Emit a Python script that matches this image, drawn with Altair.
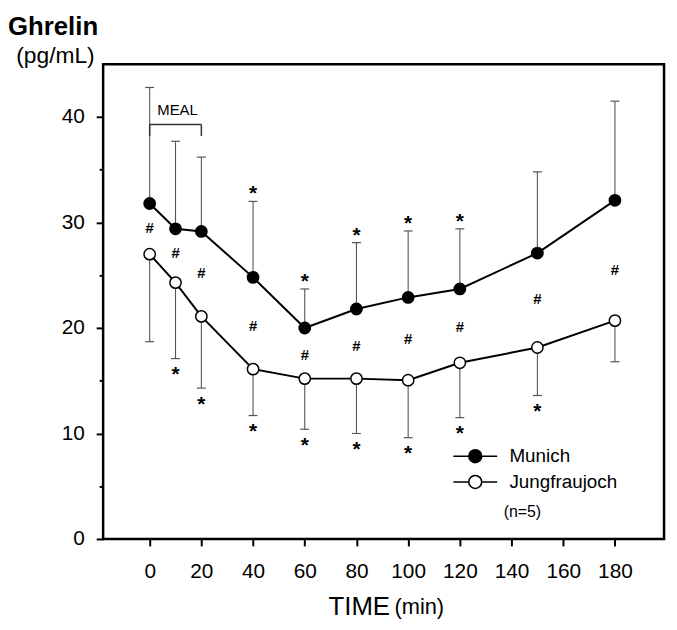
import altair as alt
import pandas as pd

# ---- data ----
times = [0, 10, 20, 40, 60, 80, 100, 120, 150, 180]
munich_mean = [31.8, 29.4, 29.15, 24.8, 20.0, 21.8, 22.9, 23.7, 27.1, 32.1]
munich_upper = [42.8, 37.7, 36.2, 32.0, 23.7, 28.1, 29.2, 29.4, 34.8, 41.5]
jung_mean = [27.0, 24.3, 21.1, 16.1, 15.2, 15.2, 15.05, 16.7, 18.15, 20.7]
jung_lower = [18.7, 17.1, 14.3, 11.7, 10.4, 10.0, 9.6, 11.5, 13.6, 16.8]
hash_y = [29.5, 27.1, 25.2, 20.2, 17.5, 18.3, 19.0, 20.1, 22.8, 25.5]
munich_star_times = [40, 60, 80, 100, 120]
jung_star_times = [10, 20, 40, 60, 80, 100, 120, 150]
series_names = ["Munich", "Jungfraujoch"]
meal_times = [0, 20]
meal_bracket_y = 39.3
meal_tip_y = 38.2
meal_label_y = 40.2
x_ticks = [0, 20, 40, 60, 80, 100, 120, 140, 160, 180]
y_ticks = [0, 5, 10, 15, 20, 25, 30, 35, 40]

FONT = "Liberation Sans"

# ---- tables ----
rows = []
for t, m, u in zip(times, munich_mean, munich_upper):
    rows.append({"series": "Munich", "time": t, "mean": m, "err": u})
for t, m, l in zip(times, jung_mean, jung_lower):
    rows.append({"series": "Jungfraujoch", "time": t, "mean": m, "err": l})
df = pd.DataFrame(rows)

hash_df = pd.DataFrame({"time": times, "y": hash_y, "sym": ["#"] * len(times)})
mstar_df = pd.DataFrame({
    "time": munich_star_times,
    "y": [munich_upper[times.index(t)] for t in munich_star_times],
    "sym": ["*"] * len(munich_star_times),
})
jstar_df = pd.DataFrame({
    "time": jung_star_times,
    "y": [jung_lower[times.index(t)] for t in jung_star_times],
    "sym": ["*"] * len(jung_star_times),
})
meal_h = pd.DataFrame({"x": [meal_times[0]], "x2": [meal_times[1]], "y": [meal_bracket_y]})
meal_v = pd.DataFrame({"x": meal_times, "y": [meal_bracket_y] * 2, "y2": [meal_tip_y] * 2})
meal_t = pd.DataFrame({"x": [sum(meal_times) / 2], "y": [meal_label_y], "label": ["MEAL"]})
min_df = pd.DataFrame({"label": ["(min)"]})

# ---- scales / axes ----
x_scale = alt.Scale(domain=[-18, 199], nice=False, zero=False)
y_scale = alt.Scale(domain=[0, 45], nice=False, zero=False)

x_axis = alt.Axis(
    values=x_ticks, title="TIME", titleFontSize=26, titleFontWeight="normal",
    titleX=289, titleY=76, titleAlign="right", titleBaseline="alphabetic",
    titleFont=FONT, titleColor="black",
    labelFont=FONT, labelFontSize=21, labelColor="black", labelPadding=15,
    tickSize=7, tickWidth=2, tickColor="black", domain=False, grid=False,
    labelFlush=False,
)
y_axis = alt.Axis(
    values=y_ticks, labelExpr="datum.value % 10 === 0 ? datum.label : ''",
    tickSize={"condition": {"test": "datum.value % 10 === 0", "value": 7}, "value": 4},
    tickWidth=2, tickColor="black", domain=False, grid=False,
    labelFont=FONT, labelFontSize=21, labelColor="black", labelPadding=12,
    title="(pg/mL)", titleAngle=0, titleX=-9, titleY=-2, titleAlign="right",
    titleBaseline="alphabetic", titleFontSize=23, titleFontWeight="normal",
    titleFont=FONT, titleColor="black", labelFlush=False,
)


def X(field):
    return alt.X(field, type="quantitative", scale=x_scale, axis=x_axis)


def Y(field):
    return alt.Y(field, type="quantitative", scale=y_scale, axis=y_axis)


legend_symbol = "M-3.4,0L-1,0M1,0L3.4,0M1,0A1,1,0,1,1,-1,0A1,1,0,1,1,1,0Z"

base = alt.Chart(df)

err_rules = base.mark_rule(color="#555555", strokeWidth=1.1).encode(
    x=X("time"), y=Y("mean"), y2="err"
)
err_caps = base.mark_tick(color="#555555", orient="horizontal", size=9, thickness=1.2, opacity=1).encode(
    x=X("time"), y=Y("err")
)
lines = base.mark_line(color="black", strokeWidth=2).encode(
    x=X("time"), y=Y("mean"), detail="series:N"
)
points = base.mark_point(shape="circle", filled=True, stroke="black", strokeWidth=1.5,
                         size=130, opacity=1).encode(
    x=X("time"), y=Y("mean"),
    fill=alt.Fill(
        "series:N",
        scale=alt.Scale(domain=series_names, range=["black", "white"]),
        legend=alt.Legend(
            title="(n=5)", titleOrient="bottom", titleFontSize=16, titleFontWeight="normal",
            titleFont=FONT, titleColor="black", titleAnchor="middle", titleAlign="right",
            titlePadding=12,
            orient="none", legendX=366, legendY=386,
            symbolType=legend_symbol, symbolSize=169, symbolStrokeColor="black",
            symbolStrokeWidth=1.6, symbolOpacity=1,
            labelFont=FONT, labelFontSize=19, labelColor="black", labelOffset=25,
            rowPadding=5,
        ),
    ),
)

hashes = alt.Chart(hash_df).mark_text(
    font=FONT, fontSize=15, fontWeight="bold", baseline="alphabetic", dy=5.4, color="black"
).encode(x=X("time"), y=Y("y"), text="sym:N")
mstars = alt.Chart(mstar_df).mark_text(
    font=FONT, fontSize=21, fontWeight="bold", baseline="alphabetic", dy=-1, color="black"
).encode(x=X("time"), y=Y("y"), text="sym:N")
jstars = alt.Chart(jstar_df).mark_text(
    font=FONT, fontSize=21, fontWeight="bold", baseline="alphabetic", dy=23, color="black"
).encode(x=X("time"), y=Y("y"), text="sym:N")

meal_line = alt.Chart(meal_h).mark_rule(color="#333333", strokeWidth=1.5).encode(
    x=X("x"), x2="x2", y=Y("y")
)
meal_ticks = alt.Chart(meal_v).mark_rule(color="#333333", strokeWidth=1.5).encode(
    x=X("x"), y=Y("y"), y2="y2"
)
meal_text = alt.Chart(meal_t).mark_text(
    font=FONT, fontSize=15, baseline="alphabetic", dx=2, color="black"
).encode(x=X("x"), y=Y("y"), text="label:N")

min_text = alt.Chart(min_df).mark_text(
    font=FONT, fontSize=22, align="left", baseline="alphabetic", color="black"
).encode(x=alt.value(294), y=alt.value(555), text="label:N")

chart = alt.layer(
    err_rules, err_caps, lines, points, hashes, mstars, jstars,
    meal_line, meal_ticks, meal_text, min_text,
).properties(
    width=566, height=479,
    background="white",
    autosize=alt.AutoSizeParams(type="none"),
    padding={"left": 96, "top": 54, "right": 5, "bottom": 80},
    title=alt.TitleParams(
        "Ghrelin", anchor="start", frame="group", dx=-96, offset=-16,
        fontSize=26, fontWeight="bold", font=FONT, color="black", baseline="alphabetic",
    ),
).configure_view(
    stroke="black", strokeWidth=2.5
)

chart.save("out.html", embed_options={"renderer": "svg", "actions": False})
